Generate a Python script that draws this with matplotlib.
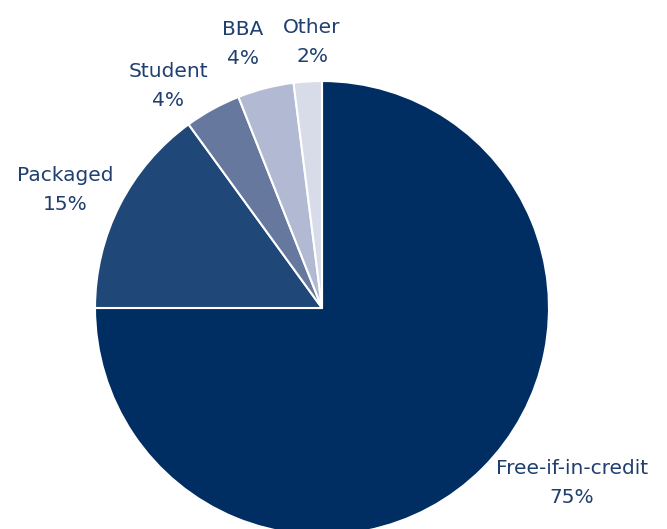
import matplotlib
matplotlib.use("Agg")
import matplotlib.pyplot as plt

# account types share
labels = ["Free-if-in-credit", "Packaged", "Student", "BBA", "Other"]
shares = [75, 15, 4, 4, 2]
colors = ["#002d62", "#1f4878", "#67789f", "#b2bad3", "#d8dce8"]

# label centre positions in pixels (x, y from top)
label_pos = [(572, 483), (65, 190), (168, 86), (243, 44), (312, 42)]

W, H = 667, 529
cx, cy, r = 322, 308, 227

fig = plt.figure(figsize=(W / 100, H / 100), dpi=100)
ax = fig.add_axes([0, 0, 1, 1])

ax.pie(shares, colors=colors, startangle=90, counterclock=False,
       radius=1, center=(0, 0),
       wedgeprops=dict(edgecolor="white", linewidth=1.5))

ax.set_xlim(-cx / r, (W - cx) / r)
ax.set_ylim((cy - H) / r, cy / r)
ax.set_aspect("auto")
ax.axis("off")

for lab, val, (px, py) in zip(labels, shares, label_pos):
    ax.text((px - cx) / r, (cy - py) / r, f"{lab}\n{val}%",
            ha="center", va="center", fontsize=14.5, color="#1f3f6e",
            linespacing=1.7)

fig.savefig("out.png", dpi=100)
